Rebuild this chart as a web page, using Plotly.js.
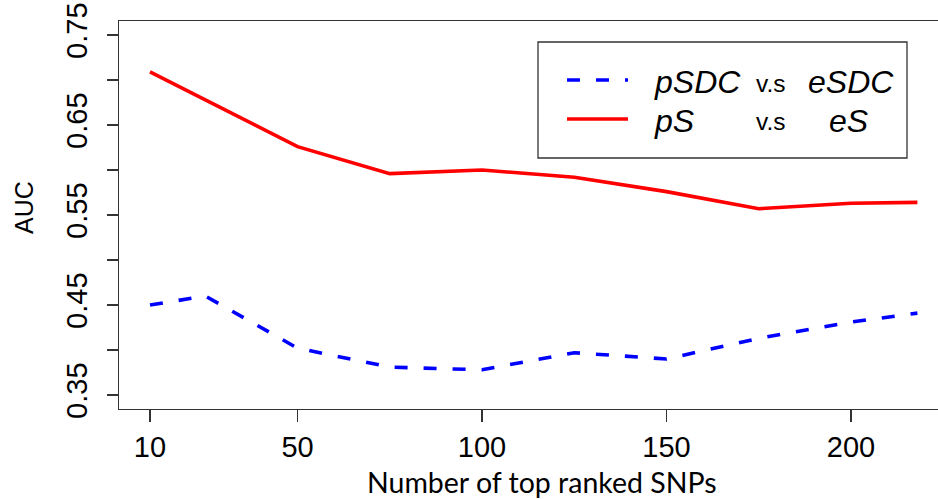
<!DOCTYPE html>
<html>
<head>
<meta charset="utf-8">
<script src="https://cdn.plot.ly/plotly-3.0.1.min.js"></script>
<style>
  html, body { margin: 0; padding: 0; background: #ffffff; overflow: hidden; }
  #chart { width: 938px; height: 499px; }
</style>
</head>
<body>
<div id="chart"></div>
<script>
// ---- data ----
var snpCounts = [10, 25, 50, 75, 100, 125, 150, 175, 200, 218];
var aucPSDCvsESDC = [0.450, 0.460, 0.402, 0.381, 0.378, 0.397, 0.390, 0.413, 0.431, 0.441];
var aucPSvsES = [0.709, 0.678, 0.626, 0.596, 0.600, 0.592, 0.576, 0.557, 0.563, 0.564];
var xTickVals = [10, 50, 100, 150, 200];
var yTickVals = [0.35, 0.40, 0.45, 0.50, 0.55, 0.60, 0.65, 0.70, 0.75];
var yTickText = ['0.35', '', '0.45', '', '0.55', '', '0.65', '', '0.75'];
var xTitle = 'Number of top ranked SNPs';
var yTitle = 'AUC';
var legendRows = [
  { left: 'pSDC', mid: 'v.s', right: 'eSDC' },
  { left: 'pS', mid: 'v.s', right: 'eS' }
];

// ---- layout helpers (pixel -> paper) ----
var W = 938, H = 499;
var M = { l: 119, r: 0, t: 21, b: 90 };
var PW = W - M.l - M.r, PH = H - M.t - M.b;
function px(x) { return (x - M.l) / PW; }
function py(y) { return (H - M.b - y) / PH; }

var traces = [
  {
    x: snpCounts, y: aucPSDCvsESDC, type: 'scatter', mode: 'lines',
    name: 'pSDC v.s eSDC',
    line: { color: '#0000ff', width: 3.6, dash: '13px,16px' },
    showlegend: false, hoverinfo: 'x+y'
  },
  {
    x: snpCounts, y: aucPSvsES, type: 'scatter', mode: 'lines',
    name: 'pS v.s eS',
    line: { color: '#ff0000', width: 3.6 },
    showlegend: false, hoverinfo: 'x+y'
  }
];

var FAM = 'Liberation Sans, Arial, sans-serif';
var legFont = { family: FAM, size: 32, color: '#000' };
var legMidFont = { family: FAM, size: 24.5, color: '#000' };

var rowY = [80, 119];
var annotations = [];
legendRows.forEach(function (r, i) {
  annotations.push({ xref: 'paper', yref: 'paper', x: px(652), y: py(rowY[i] + 2), xanchor: 'left', yanchor: 'middle',
    text: '<i>' + r.left + '</i>', showarrow: false, font: legFont });
  annotations.push({ xref: 'paper', yref: 'paper', x: px(754), y: py(rowY[i] + 3), xanchor: 'left', yanchor: 'middle',
    text: r.mid, showarrow: false, font: legMidFont });
});
annotations.push({ xref: 'paper', yref: 'paper', x: px(806), y: py(rowY[0] + 2), xanchor: 'left', yanchor: 'middle',
  text: '<i>' + legendRows[0].right + '</i>', showarrow: false, font: legFont });
annotations.push({ xref: 'paper', yref: 'paper', x: px(848), y: py(rowY[1] + 2), xanchor: 'center', yanchor: 'middle',
  text: '<i>' + legendRows[1].right + '</i>', showarrow: false, font: legFont });
// axis titles (placed as in the reference, whose plot region extends past the cropped right edge)
annotations.push({ xref: 'paper', yref: 'paper', x: px(542), y: py(482), xanchor: 'center', yanchor: 'middle',
  text: xTitle, showarrow: false, font: { family: 'Lato, sans-serif', size: 28.5, color: '#000' } });
annotations.push({ xref: 'paper', yref: 'paper', x: px(24), y: py(208), xanchor: 'center', yanchor: 'middle',
  text: yTitle, textangle: -90, showarrow: false, font: { family: FAM, size: 25, color: '#000' } });

var shapes = [
  { type: 'rect', xref: 'paper', yref: 'paper', x0: px(538), x1: px(907), y0: py(158), y1: py(42),
    line: { color: '#333', width: 1.3 }, fillcolor: 'rgba(255,255,255,0)' },
  { type: 'line', xref: 'paper', yref: 'paper', x0: px(567), x1: px(628), y0: py(80), y1: py(80),
    line: { color: '#0000ff', width: 3.6, dash: '13px,16px' } },
  { type: 'line', xref: 'paper', yref: 'paper', x0: px(567), x1: px(628), y0: py(119), y1: py(119),
    line: { color: '#ff0000', width: 3.6 } }
];

var layout = {
  width: W, height: H,
  margin: M,
  paper_bgcolor: '#ffffff', plot_bgcolor: '#ffffff',
  showlegend: false,
  xaxis: {
    range: [1.6, 223.58],
    tickvals: xTickVals, ticktext: xTickVals.map(String),
    ticks: 'outside', ticklen: 12, tickwidth: 1.2, tickcolor: '#333',
    showline: true, linecolor: '#333', linewidth: 1.3, mirror: true,
    showgrid: false, zeroline: false,
    tickfont: { family: FAM, size: 29, color: '#000' },
    ticklabelstandoff: 0
  },
  yaxis: {
    range: [0.33444, 0.7656],
    tickvals: yTickVals, ticktext: yTickText,
    ticks: 'outside', ticklen: 11, tickwidth: 1.2, tickcolor: '#333',
    showline: true, linecolor: '#333', linewidth: 1.3, mirror: false,
    showgrid: false, zeroline: false,
    tickangle: -90,
    tickfont: { family: FAM, size: 29, color: '#000' },
    ticklabelstandoff: 8
  },
  annotations: annotations,
  shapes: shapes
};

Plotly.newPlot('chart', traces, layout, { displayModeBar: false, staticPlot: true });
</script>
</body>
</html>
